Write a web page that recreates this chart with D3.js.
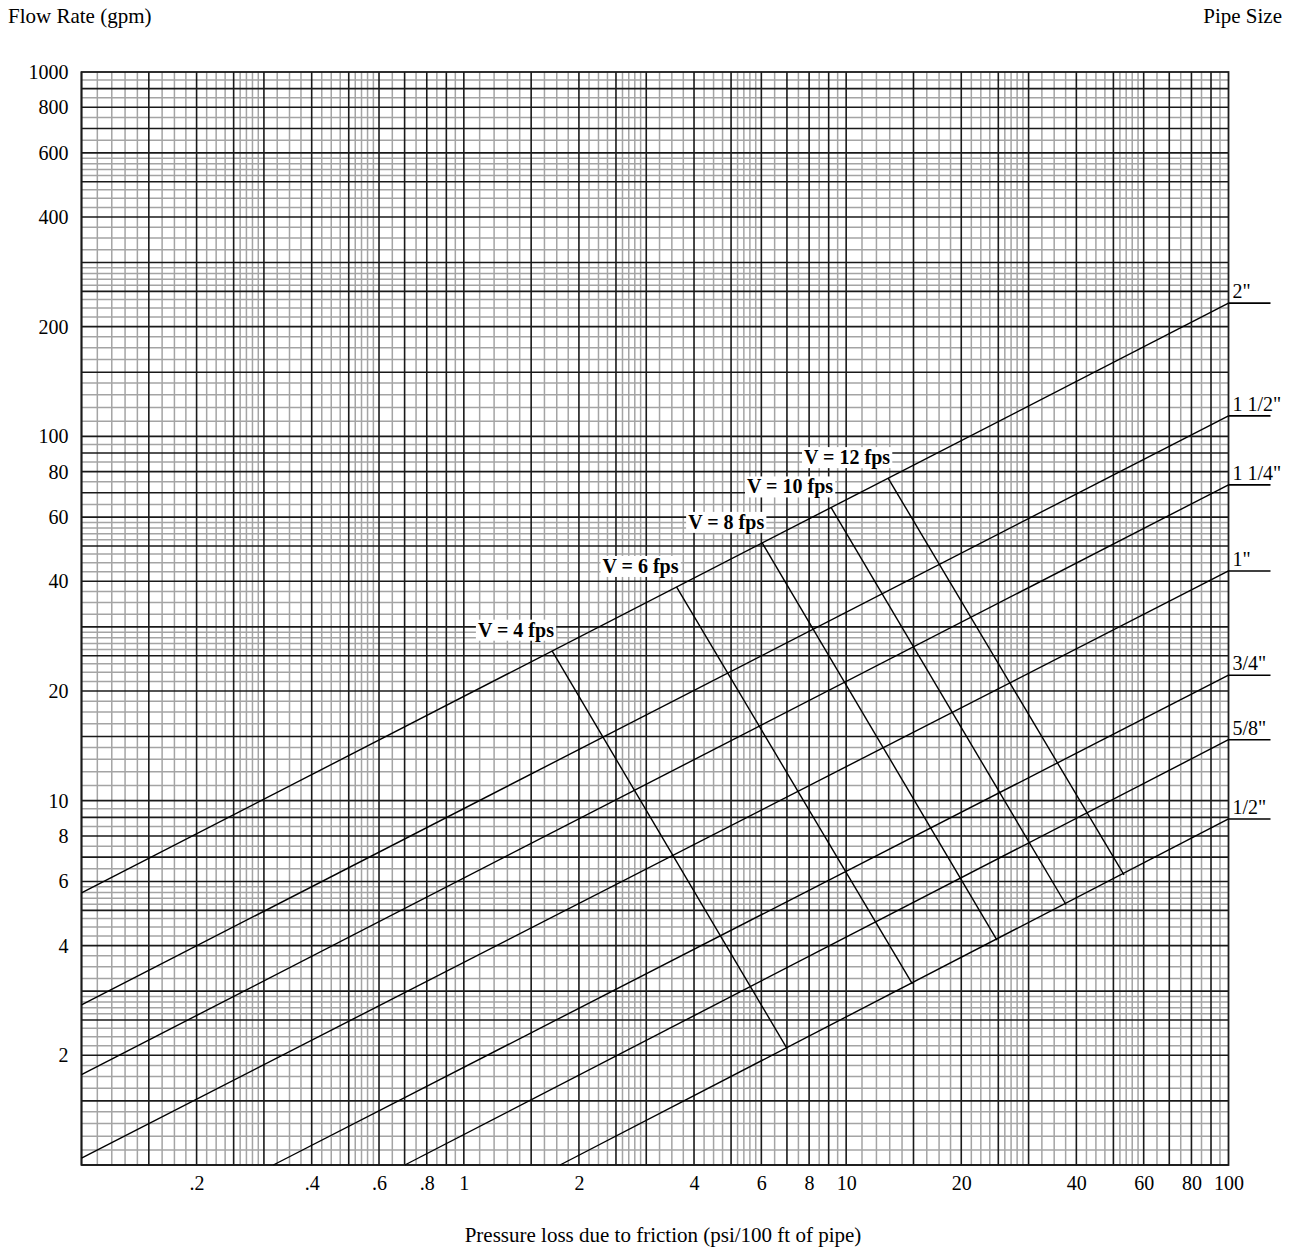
<!DOCTYPE html>
<html>
<head>
<meta charset="utf-8">
<script src="https://d3js.org/d3.v7.min.js"></script>
<style>
  body { margin: 0; background: #fff; }
  svg { display: block; font-family: "Liberation Serif", "Times New Roman", serif; }
  .axis text { font-size: 20px; fill: #000; font-family: "Liberation Serif", "Times New Roman", serif; }
  .title { font-size: 21px; fill: #000; }
  .pipe-label { font-size: 20px; fill: #000; }
  .vel-label { font-size: 20px; font-weight: bold; fill: #000; }
</style>
</head>
<body>
<div class="chart"></div>
<script>
// tick values and their printed labels
var xTickValues = [0.2, 0.4, 0.6, 0.8, 1, 2, 4, 6, 8, 10, 20, 40, 60, 80, 100];
var xTickLabels = [".2", ".4", ".6", ".8", "1", "2", "4", "6", "8", "10", "20", "40", "60", "80", "100"];
var yTickValues = [2, 4, 6, 8, 10, 20, 40, 60, 80, 100, 200, 400, 600, 800, 1000];

// graph paper rulings inside one decade (multiples of the decade start)
var majorSteps = [1, 1.5, 2, 2.5, 3, 4, 5, 6, 7, 8, 9];
var minorSteps = [1.1, 1.2, 1.3, 1.4, 1.625, 1.75, 1.875, 2.125, 2.25, 2.375,
                  2.6, 2.7, 2.8, 2.9, 3.25, 3.5, 3.75, 4.25, 4.5, 4.75,
                  5.2, 5.4, 5.6, 5.8, 6.5, 7.5, 8.5, 9.5];

// pipe size lines: start point and end point (psi/100ft, gpm)
var pipeSizes = ['2"', '1 1/2"', '1 1/4"', '1"', '3/4"', '5/8"', '1/2"'];
var pipeStartP = [0.1, 0.1, 0.1, 0.1, 0.3175, 0.701, 1.785];
var pipeStartQ = [5.58, 2.75, 1.77, 1.045, 1, 1, 1];
var pipeEndP = [100, 100, 100, 100, 100, 100, 100];
var pipeEndQ = [232, 113.8, 73.6, 42.7, 22.1, 14.7, 8.91];

// velocity lines, from the 2" line down to the 1/2" line
var velLabels = ["V = 4 fps", "V = 6 fps", "V = 8 fps", "V = 10 fps", "V = 12 fps"];
var velTopP = [1.7, 3.6, 6.03, 9.13, 12.87];
var velTopQ = [25.8, 38.6, 51.0, 63.8, 76.8];
var velBottomP = [7.0, 14.9, 24.8, 37.6, 53.3];
var velBottomQ = [2.09, 3.14, 4.14, 5.18, 6.26];

var svgWidth = 1296;
var svgHeight = 1252;
var plot = { left: 81.5, right: 1228.5, top: 72, bottom: 1165 };

var svg = d3.select(".chart")
    .append("svg")
    .attr("width", svgWidth)
    .attr("height", svgHeight);

var xScale = d3.scaleLog().domain([0.1, 100]).range([plot.left, plot.right]);
var yScale = d3.scaleLog().domain([1, 1000]).range([plot.bottom, plot.top]);

// spread the per-decade steps over a whole log domain
function rulings(steps, domain) {
    var vals = [];
    var e0 = Math.round(Math.log10(domain[0]));
    var e1 = Math.round(Math.log10(domain[1]));
    for (var e = e0; e < e1; e++) {
        steps.forEach(function (s) { vals.push(s * Math.pow(10, e)); });
    }
    return vals;
}

var grid = svg.append("g").attr("class", "grid");

function drawRulings(vals, color, width) {
    grid.append("g").selectAll("line")
        .data(rulings(vals, xScale.domain()))
        .enter().append("line")
        .attr("x1", function (d) { return xScale(d); })
        .attr("x2", function (d) { return xScale(d); })
        .attr("y1", plot.top).attr("y2", plot.bottom)
        .attr("stroke", color).attr("stroke-width", width);
    grid.append("g").selectAll("line")
        .data(rulings(vals, yScale.domain()))
        .enter().append("line")
        .attr("y1", function (d) { return yScale(d); })
        .attr("y2", function (d) { return yScale(d); })
        .attr("x1", plot.left).attr("x2", plot.right)
        .attr("stroke", color).attr("stroke-width", width);
}

drawRulings(minorSteps, "#a4a4a4", 1.5);
drawRulings(majorSteps, "#1a1a1a", 1.6);

// frame
svg.append("rect")
    .attr("x", plot.left).attr("y", plot.top)
    .attr("width", plot.right - plot.left)
    .attr("height", plot.bottom - plot.top)
    .attr("fill", "none").attr("stroke", "#1a1a1a").attr("stroke-width", 1.8);

// axes (labels only)
var xAxis = d3.axisBottom(xScale)
    .tickValues(xTickValues)
    .tickSize(0).tickPadding(11)
    .tickFormat(function (d, i) { return xTickLabels[i]; });
var yAxis = d3.axisLeft(yScale)
    .tickValues(yTickValues)
    .tickSize(0).tickPadding(13)
    .tickFormat(d3.format("d"));

svg.append("g")
    .attr("class", "axis x-axis")
    .attr("transform", `translate(0,${plot.bottom})`)
    .call(xAxis)
    .call(function (g) { g.select(".domain").remove(); })
    .attr("font-family", null).attr("font-size", null);

svg.append("g")
    .attr("class", "axis y-axis")
    .attr("transform", `translate(${plot.left},0)`)
    .call(yAxis)
    .call(function (g) { g.select(".domain").remove(); })
    .attr("font-family", null).attr("font-size", null);

// pipe size lines
var pipes = pipeSizes.map(function (name, i) {
    return { name: name, p0: pipeStartP[i], q0: pipeStartQ[i], p1: pipeEndP[i], q1: pipeEndQ[i] };
});

var pipeG = svg.append("g").attr("class", "pipes");
pipeG.selectAll("line.pipe")
    .data(pipes)
    .enter().append("line")
    .attr("class", "pipe")
    .attr("x1", function (d) { return xScale(d.p0); })
    .attr("y1", function (d) { return yScale(d.q0); })
    .attr("x2", function (d) { return xScale(d.p1); })
    .attr("y2", function (d) { return yScale(d.q1); })
    .attr("stroke", "#000").attr("stroke-width", 1.4);

// short leader to the right of the frame
pipeG.selectAll("line.leader")
    .data(pipes)
    .enter().append("line")
    .attr("class", "leader")
    .attr("x1", function (d) { return xScale(d.p1); })
    .attr("x2", function (d) { return xScale(d.p1) + 42; })
    .attr("y1", function (d) { return yScale(d.q1); })
    .attr("y2", function (d) { return yScale(d.q1); })
    .attr("stroke", "#000").attr("stroke-width", 1.6);

pipeG.selectAll("text")
    .data(pipes)
    .enter().append("text")
    .attr("class", "pipe-label")
    .attr("x", function (d) { return xScale(d.p1) + 4; })
    .attr("y", function (d) { return yScale(d.q1) - 5; })
    .text(function (d) { return d.name; });

// velocity lines
var vels = velLabels.map(function (name, i) {
    return { name: name, p0: velTopP[i], q0: velTopQ[i], p1: velBottomP[i], q1: velBottomQ[i] };
});

var velG = svg.append("g").attr("class", "velocity");
velG.selectAll("line")
    .data(vels)
    .enter().append("line")
    .attr("x1", function (d) { return xScale(d.p0); })
    .attr("y1", function (d) { return yScale(d.q0); })
    .attr("x2", function (d) { return xScale(d.p1); })
    .attr("y2", function (d) { return yScale(d.q1); })
    .attr("stroke", "#000").attr("stroke-width", 1.4);

var velLabel = velG.selectAll("g.vlabel")
    .data(vels)
    .enter().append("g")
    .attr("class", "vlabel")
    .attr("transform", function (d) {
        return `translate(${xScale(d.p0) + 2},${yScale(d.q0) - 14})`;
    });

velLabel.append("text")
    .attr("class", "vel-label")
    .attr("text-anchor", "end")
    .text(function (d) { return d.name; });

// white box behind each velocity label
velLabel.each(function () {
    var g = d3.select(this);
    var bb = g.select("text").node().getBBox();
    g.insert("rect", "text")
        .attr("x", bb.x - 2).attr("y", bb.y + 1)
        .attr("width", bb.width + 4).attr("height", bb.height - 2)
        .attr("fill", "#fff");
});

// titles
svg.append("text")
    .attr("class", "title")
    .attr("x", 8).attr("y", 23)
    .text("Flow Rate (gpm)");

svg.append("text")
    .attr("class", "title")
    .attr("x", 1282).attr("y", 23)
    .attr("text-anchor", "end")
    .text("Pipe Size");

svg.append("text")
    .attr("class", "title")
    .attr("x", 663).attr("y", 1242)
    .attr("text-anchor", "middle")
    .text("Pressure loss due to friction (psi/100 ft of pipe)");
</script>
</body>
</html>
